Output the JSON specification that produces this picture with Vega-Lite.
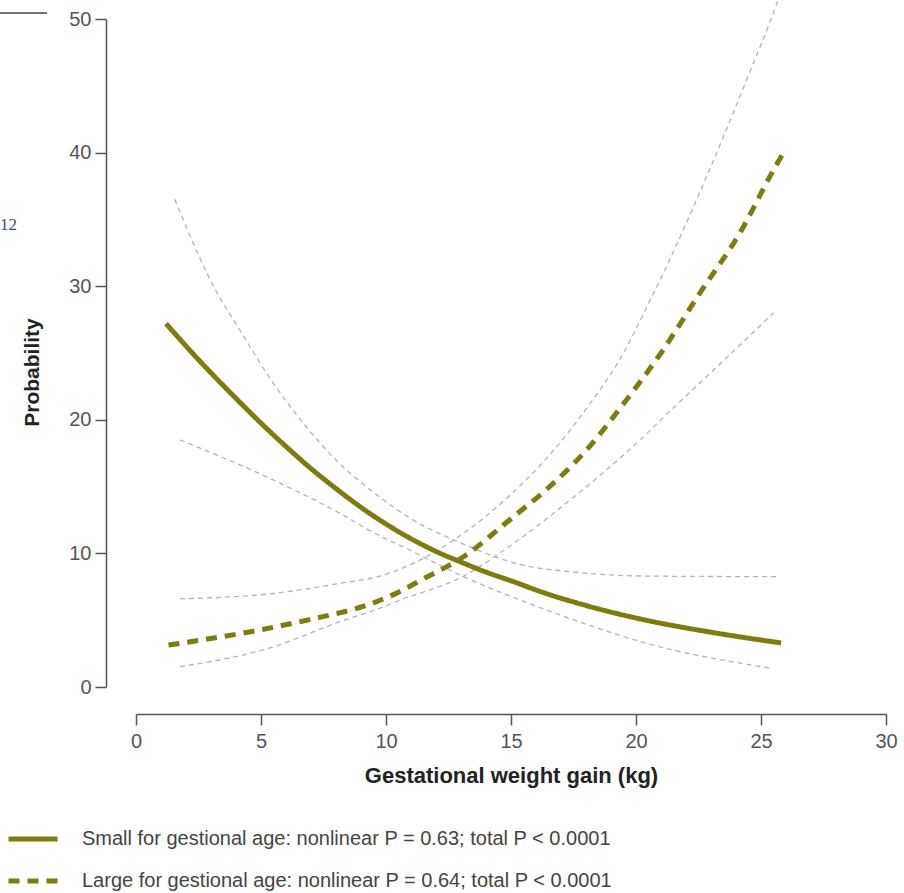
{
  "$schema": "https://vega.github.io/schema/vega-lite/v6.json",
  "width": 750,
  "height": 668,
  "autosize": {"type": "none"},
  "padding": {"left": 136, "top": 19, "right": 18, "bottom": 206},
  "background": "white",
  "config": {
    "view": {"stroke": null},
    "font": "Liberation Sans"
  },
  "datasets": {
    "curves": [
      {"curve": "SGA", "kind": "main", "label": "Small for gestional age: nonlinear P = 0.63; total P < 0.0001", "gain": 1.2, "prob": 27.2},
      {"curve": "SGA", "kind": "main", "label": "Small for gestional age: nonlinear P = 0.63; total P < 0.0001", "gain": 2.5, "prob": 24.5},
      {"curve": "SGA", "kind": "main", "label": "Small for gestional age: nonlinear P = 0.63; total P < 0.0001", "gain": 4, "prob": 21.6},
      {"curve": "SGA", "kind": "main", "label": "Small for gestional age: nonlinear P = 0.63; total P < 0.0001", "gain": 5, "prob": 19.75},
      {"curve": "SGA", "kind": "main", "label": "Small for gestional age: nonlinear P = 0.63; total P < 0.0001", "gain": 6, "prob": 18.0},
      {"curve": "SGA", "kind": "main", "label": "Small for gestional age: nonlinear P = 0.63; total P < 0.0001", "gain": 7, "prob": 16.35},
      {"curve": "SGA", "kind": "main", "label": "Small for gestional age: nonlinear P = 0.63; total P < 0.0001", "gain": 8, "prob": 14.85},
      {"curve": "SGA", "kind": "main", "label": "Small for gestional age: nonlinear P = 0.63; total P < 0.0001", "gain": 9, "prob": 13.45},
      {"curve": "SGA", "kind": "main", "label": "Small for gestional age: nonlinear P = 0.63; total P < 0.0001", "gain": 10, "prob": 12.2},
      {"curve": "SGA", "kind": "main", "label": "Small for gestional age: nonlinear P = 0.63; total P < 0.0001", "gain": 11, "prob": 11.1},
      {"curve": "SGA", "kind": "main", "label": "Small for gestional age: nonlinear P = 0.63; total P < 0.0001", "gain": 12, "prob": 10.15},
      {"curve": "SGA", "kind": "main", "label": "Small for gestional age: nonlinear P = 0.63; total P < 0.0001", "gain": 13, "prob": 9.35},
      {"curve": "SGA", "kind": "main", "label": "Small for gestional age: nonlinear P = 0.63; total P < 0.0001", "gain": 14, "prob": 8.6},
      {"curve": "SGA", "kind": "main", "label": "Small for gestional age: nonlinear P = 0.63; total P < 0.0001", "gain": 15, "prob": 7.95},
      {"curve": "SGA", "kind": "main", "label": "Small for gestional age: nonlinear P = 0.63; total P < 0.0001", "gain": 16.4, "prob": 7.0},
      {"curve": "SGA", "kind": "main", "label": "Small for gestional age: nonlinear P = 0.63; total P < 0.0001", "gain": 18, "prob": 6.1},
      {"curve": "SGA", "kind": "main", "label": "Small for gestional age: nonlinear P = 0.63; total P < 0.0001", "gain": 20.4, "prob": 5.0},
      {"curve": "SGA", "kind": "main", "label": "Small for gestional age: nonlinear P = 0.63; total P < 0.0001", "gain": 23, "prob": 4.1},
      {"curve": "SGA", "kind": "main", "label": "Small for gestional age: nonlinear P = 0.63; total P < 0.0001", "gain": 25.8, "prob": 3.3},

      {"curve": "LGA", "kind": "main", "label": "Large for gestional age: nonlinear P = 0.64; total P < 0.0001", "gain": 1.3, "prob": 3.14},
      {"curve": "LGA", "kind": "main", "label": "Large for gestional age: nonlinear P = 0.64; total P < 0.0001", "gain": 4.16, "prob": 4.0},
      {"curve": "LGA", "kind": "main", "label": "Large for gestional age: nonlinear P = 0.64; total P < 0.0001", "gain": 6.83, "prob": 5.0},
      {"curve": "LGA", "kind": "main", "label": "Large for gestional age: nonlinear P = 0.64; total P < 0.0001", "gain": 9.5, "prob": 6.3},
      {"curve": "LGA", "kind": "main", "label": "Large for gestional age: nonlinear P = 0.64; total P < 0.0001", "gain": 10.5, "prob": 7.1},
      {"curve": "LGA", "kind": "main", "label": "Large for gestional age: nonlinear P = 0.64; total P < 0.0001", "gain": 11.4, "prob": 8.0},
      {"curve": "LGA", "kind": "main", "label": "Large for gestional age: nonlinear P = 0.64; total P < 0.0001", "gain": 13.1, "prob": 9.75},
      {"curve": "LGA", "kind": "main", "label": "Large for gestional age: nonlinear P = 0.64; total P < 0.0001", "gain": 15.1, "prob": 12.75},
      {"curve": "LGA", "kind": "main", "label": "Large for gestional age: nonlinear P = 0.64; total P < 0.0001", "gain": 16.4, "prob": 14.75},
      {"curve": "LGA", "kind": "main", "label": "Large for gestional age: nonlinear P = 0.64; total P < 0.0001", "gain": 18.0, "prob": 17.7},
      {"curve": "LGA", "kind": "main", "label": "Large for gestional age: nonlinear P = 0.64; total P < 0.0001", "gain": 19.5, "prob": 21.2},
      {"curve": "LGA", "kind": "main", "label": "Large for gestional age: nonlinear P = 0.64; total P < 0.0001", "gain": 21.0, "prob": 25.0},
      {"curve": "LGA", "kind": "main", "label": "Large for gestional age: nonlinear P = 0.64; total P < 0.0001", "gain": 22.56, "prob": 29.5},
      {"curve": "LGA", "kind": "main", "label": "Large for gestional age: nonlinear P = 0.64; total P < 0.0001", "gain": 24.16, "prob": 34.0},
      {"curve": "LGA", "kind": "main", "label": "Large for gestional age: nonlinear P = 0.64; total P < 0.0001", "gain": 25.5, "prob": 38.7},
      {"curve": "LGA", "kind": "main", "label": "Large for gestional age: nonlinear P = 0.64; total P < 0.0001", "gain": 25.9, "prob": 40.0},

      {"curve": "SGA_hi", "kind": "ci", "gain": 1.55, "prob": 36.5},
      {"curve": "SGA_hi", "kind": "ci", "gain": 3.1, "prob": 30.0},
      {"curve": "SGA_hi", "kind": "ci", "gain": 4.16, "prob": 26.7},
      {"curve": "SGA_hi", "kind": "ci", "gain": 5.36, "prob": 23.1},
      {"curve": "SGA_hi", "kind": "ci", "gain": 6.8, "prob": 19.5},
      {"curve": "SGA_hi", "kind": "ci", "gain": 8.0, "prob": 17.0},
      {"curve": "SGA_hi", "kind": "ci", "gain": 9.76, "prob": 14.2},
      {"curve": "SGA_hi", "kind": "ci", "gain": 11.0, "prob": 12.6},
      {"curve": "SGA_hi", "kind": "ci", "gain": 13.1, "prob": 10.7},
      {"curve": "SGA_hi", "kind": "ci", "gain": 15.1, "prob": 9.3},
      {"curve": "SGA_hi", "kind": "ci", "gain": 17.8, "prob": 8.55},
      {"curve": "SGA_hi", "kind": "ci", "gain": 20.5, "prob": 8.3},
      {"curve": "SGA_hi", "kind": "ci", "gain": 25.6, "prob": 8.26},

      {"curve": "SGA_lo", "kind": "ci", "gain": 1.76, "prob": 18.5},
      {"curve": "SGA_lo", "kind": "ci", "gain": 5.49, "prob": 15.5},
      {"curve": "SGA_lo", "kind": "ci", "gain": 8.16, "prob": 13.0},
      {"curve": "SGA_lo", "kind": "ci", "gain": 9.76, "prob": 11.3},
      {"curve": "SGA_lo", "kind": "ci", "gain": 10.56, "prob": 10.6},
      {"curve": "SGA_lo", "kind": "ci", "gain": 13.1, "prob": 8.26},
      {"curve": "SGA_lo", "kind": "ci", "gain": 16.43, "prob": 5.76},
      {"curve": "SGA_lo", "kind": "ci", "gain": 20.43, "prob": 3.27},
      {"curve": "SGA_lo", "kind": "ci", "gain": 25.4, "prob": 1.4},

      {"curve": "LGA_hi", "kind": "ci", "gain": 1.76, "prob": 6.6},
      {"curve": "LGA_hi", "kind": "ci", "gain": 5.49, "prob": 7.0},
      {"curve": "LGA_hi", "kind": "ci", "gain": 8.16, "prob": 7.76},
      {"curve": "LGA_hi", "kind": "ci", "gain": 9.76, "prob": 8.3},
      {"curve": "LGA_hi", "kind": "ci", "gain": 11.36, "prob": 9.5},
      {"curve": "LGA_hi", "kind": "ci", "gain": 13.1, "prob": 11.5},
      {"curve": "LGA_hi", "kind": "ci", "gain": 15.1, "prob": 14.6},
      {"curve": "LGA_hi", "kind": "ci", "gain": 16.7, "prob": 17.7},
      {"curve": "LGA_hi", "kind": "ci", "gain": 18.0, "prob": 20.8},
      {"curve": "LGA_hi", "kind": "ci", "gain": 19.5, "prob": 25.0},
      {"curve": "LGA_hi", "kind": "ci", "gain": 20.5, "prob": 28.7},
      {"curve": "LGA_hi", "kind": "ci", "gain": 21.5, "prob": 32.6},
      {"curve": "LGA_hi", "kind": "ci", "gain": 22.5, "prob": 36.8},
      {"curve": "LGA_hi", "kind": "ci", "gain": 23.5, "prob": 41.2},
      {"curve": "LGA_hi", "kind": "ci", "gain": 24.5, "prob": 45.8},
      {"curve": "LGA_hi", "kind": "ci", "gain": 25.6, "prob": 51.0},
      {"curve": "LGA_hi", "kind": "ci", "gain": 25.75, "prob": 51.8},

      {"curve": "LGA_lo", "kind": "ci", "gain": 1.76, "prob": 1.52},
      {"curve": "LGA_lo", "kind": "ci", "gain": 5.49, "prob": 3.0},
      {"curve": "LGA_lo", "kind": "ci", "gain": 8.16, "prob": 4.9},
      {"curve": "LGA_lo", "kind": "ci", "gain": 9.76, "prob": 5.9},
      {"curve": "LGA_lo", "kind": "ci", "gain": 10.56, "prob": 6.5},
      {"curve": "LGA_lo", "kind": "ci", "gain": 13.1, "prob": 8.3},
      {"curve": "LGA_lo", "kind": "ci", "gain": 15.1, "prob": 10.75},
      {"curve": "LGA_lo", "kind": "ci", "gain": 17.76, "prob": 14.6},
      {"curve": "LGA_lo", "kind": "ci", "gain": 19.76, "prob": 17.8},
      {"curve": "LGA_lo", "kind": "ci", "gain": 21.5, "prob": 20.9},
      {"curve": "LGA_lo", "kind": "ci", "gain": 23.6, "prob": 24.6},
      {"curve": "LGA_lo", "kind": "ci", "gain": 25.5, "prob": 28.0}
    ],
    "notes": [
      {"nx": -5.44, "ny": 34.58, "txt": "12"}
    ],
    "edge": [
      {"ex": -5.44, "ex2": -3.56, "ey": 50.45}
    ]
  },
  "layer": [
    {
      "data": {"name": "curves"},
      "transform": [{"filter": "datum.kind == 'ci'"}],
      "mark": {"type": "line", "color": "#b2b2ba", "strokeWidth": 1.3, "strokeDash": [5, 4], "interpolate": "monotone", "clip": false},
      "encoding": {
        "x": {
          "field": "gain", "type": "quantitative",
          "scale": {"domain": [0, 30], "nice": false, "zero": false},
          "axis": {
            "values": [0, 5, 10, 15, 20, 25, 30],
            "title": "Gestational weight gain (kg)",
            "offset": 27, "grid": false, "tickSize": 11, "labelFlush": false,
            "domainColor": "#555", "tickColor": "#555", "domainWidth": 1.5, "tickWidth": 1.5,
            "labelColor": "#555", "labelFontSize": 20, "labelPadding": 6,
            "titleFontSize": 22, "titleFontWeight": "bold", "titleColor": "#222", "titlePadding": 14
          }
        },
        "y": {
          "field": "prob", "type": "quantitative",
          "scale": {"domain": [0, 50], "nice": false},
          "axis": {
            "values": [0, 10, 20, 30, 40, 50],
            "title": "Probability",
            "offset": 30, "grid": false, "tickSize": 11, "labelFlush": false,
            "domainColor": "#555", "tickColor": "#555", "domainWidth": 1.5, "tickWidth": 1.5,
            "labelColor": "#555", "labelFontSize": 20, "labelPadding": 4,
            "titleFontSize": 21, "titleFontWeight": "bold", "titleColor": "#222", "titlePadding": 26,
            "titleY": 353
          }
        },
        "detail": {"field": "curve"}
      }
    },
    {
      "data": {"name": "curves"},
      "transform": [{"filter": "datum.kind == 'main'"}],
      "mark": {"type": "line", "color": "#7f7b0f", "strokeWidth": 5, "interpolate": "monotone", "clip": false},
      "encoding": {
        "x": {"field": "gain", "type": "quantitative"},
        "y": {"field": "prob", "type": "quantitative"},
        "strokeDash": {
          "field": "label", "type": "nominal",
          "scale": {
            "domain": ["Small for gestional age: nonlinear P = 0.63; total P < 0.0001", "Large for gestional age: nonlinear P = 0.64; total P < 0.0001"],
            "range": [[1, 0], [11, 8]]
          },
          "legend": {
            "orient": "none", "legendX": -130, "legendY": 793,
            "title": null, "symbolType": "stroke", "symbolSize": 2401,
            "symbolStrokeWidth": 5, "symbolStrokeColor": "#7f7b0f",
            "labelFontSize": 20, "labelColor": "#444", "labelLimit": 1000,
            "labelOffset": 22, "rowPadding": 5
          }
        }
      }
    },
    {
      "data": {"name": "notes"},
      "mark": {"type": "text", "align": "left", "baseline": "middle", "font": "Liberation Serif", "fontSize": 17, "color": "#34507a"},
      "encoding": {
        "x": {"field": "nx", "type": "quantitative"},
        "y": {"field": "ny", "type": "quantitative"},
        "text": {"field": "txt"}
      }
    },
    {
      "data": {"name": "edge"},
      "mark": {"type": "rule", "color": "#444", "strokeWidth": 1.5},
      "encoding": {
        "x": {"field": "ex", "type": "quantitative"},
        "x2": {"field": "ex2"},
        "y": {"field": "ey", "type": "quantitative"}
      }
    }
  ]
}
